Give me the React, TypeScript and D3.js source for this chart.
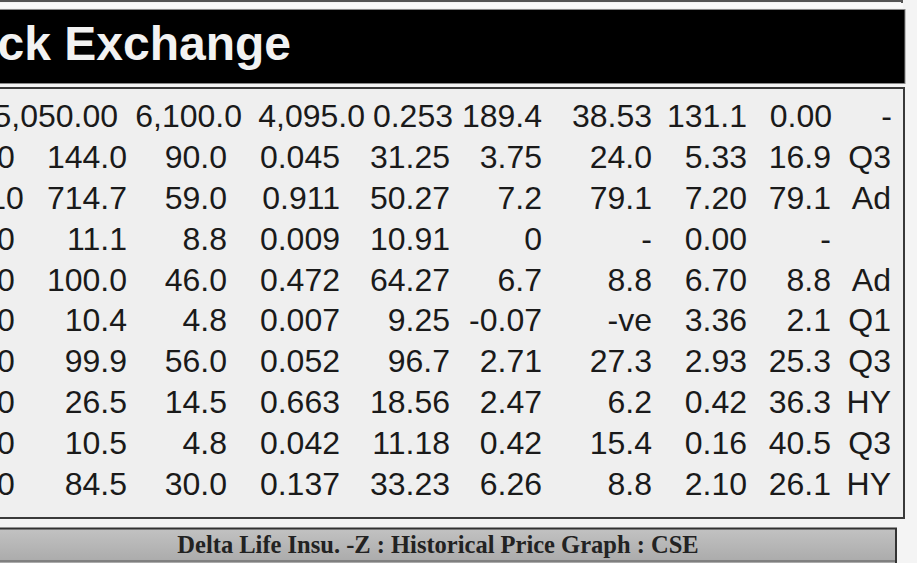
import React, { useRef, useEffect } from 'react';
import * as d3 from 'd3';

// Visible part of the title banner
const bannerTitle = 'ck Exchange';
const graphCaption = 'Delta Life Insu. -Z : Historical Price Graph : CSE';

// Column keys (the leftmost one is cut off by the crop)
const columnKeys = ['c0', 'c1', 'c2', 'c3', 'c4', 'c5', 'c6', 'c7', 'c8', 'c9'];

// First (summary) row, starts at the second column
const summaryRow = ['5,050.00', '6,100.0', '4,095.0', '0.253', '189.4', '38.53', '131.1', '0.00', '-'];

// Body rows
const row1 = ['0', '144.0', '90.0', '0.045', '31.25', '3.75', '24.0', '5.33', '16.9', 'Q3'];
const row2 = ['10', '714.7', '59.0', '0.911', '50.27', '7.2', '79.1', '7.20', '79.1', 'Ad'];
const row3 = ['0', '11.1', '8.8', '0.009', '10.91', '0', '-', '0.00', '-', ''];
const row4 = ['0', '100.0', '46.0', '0.472', '64.27', '6.7', '8.8', '6.70', '8.8', 'Ad'];
const row5 = ['0', '10.4', '4.8', '0.007', '9.25', '-0.07', '-ve', '3.36', '2.1', 'Q1'];
const row6 = ['0', '99.9', '56.0', '0.052', '96.7', '2.71', '27.3', '2.93', '25.3', 'Q3'];
const row7 = ['0', '26.5', '14.5', '0.663', '18.56', '2.47', '6.2', '0.42', '36.3', 'HY'];
const row8 = ['0', '10.5', '4.8', '0.042', '11.18', '0.42', '15.4', '0.16', '40.5', 'Q3'];
const row9 = ['0', '84.5', '30.0', '0.137', '33.23', '6.26', '8.8', '2.10', '26.1', 'HY'];
const bodyRows = [row1, row2, row3, row4, row5, row6, row7, row8, row9];

const W = 917;
const H = 563;

const App = () => {
  const svgRef = useRef<SVGSVGElement | null>(null);

  useEffect(() => {
    const svg = d3.select(svgRef.current);
    svg.selectAll('*').remove();

    const sans = "'Liberation Sans', Arial, Helvetica, sans-serif";
    const serif = "'Liberation Serif', 'Times New Roman', serif";

    const defs = svg.append('defs');
    const grad = defs.append('linearGradient')
      .attr('id', 'barGrad')
      .attr('x1', 0).attr('y1', 0).attr('x2', 0).attr('y2', 1);
    grad.append('stop').attr('offset', '0%').attr('stop-color', '#c2c2c2');
    grad.append('stop').attr('offset', '100%').attr('stop-color', '#a6a6a6');

    // page background
    svg.append('rect').attr('width', W).attr('height', H).attr('fill', '#f4f4f4');

    // bottom edge of the box above
    svg.append('rect').attr('x', 0).attr('y', 0).attr('width', 903).attr('height', 2).attr('fill', '#555');
    svg.append('rect').attr('x', 901).attr('y', 0).attr('width', 2).attr('height', 3).attr('fill', '#555');
    svg.append('rect').attr('x', 0).attr('y', 3).attr('width', 903).attr('height', 5).attr('fill', '#fafafa');

    // black banner
    svg.append('rect')
      .attr('x', -1).attr('y', 9.5).attr('width', 906).attr('height', 74)
      .attr('fill', '#000').attr('stroke', '#8a8a8a').attr('stroke-width', 1);
    svg.append('text')
      .attr('x', 291).attr('y', 60)
      .attr('text-anchor', 'end')
      .attr('font-family', sans)
      .attr('font-weight', 'bold')
      .attr('font-size', 48)
      .attr('fill', '#f2f2f2')
      .text(bannerTitle);

    // table box
    svg.append('rect')
      .attr('x', -2).attr('y', 88).attr('width', 906).attr('height', 430)
      .attr('fill', '#efefef').attr('stroke', '#3a3a3a').attr('stroke-width', 2);

    // row baselines
    const y = d3.scaleLinear().domain([0, 9]).range([127, 495]);

    // column anchor positions
    const colX = d3.scaleOrdinal<string, number>()
      .domain(columnKeys)
      .range([6, 127, 227, 340, 450, 542, 652, 747, 831, 891]);
    const summaryX = d3.scaleOrdinal<string, number>()
      .domain(columnKeys.slice(1))
      .range([118, 242, 365, 453, 542, 652, 747, 832, 892]);

    const cells = svg.append('g')
      .attr('font-family', sans)
      .attr('font-size', 32)
      .attr('fill', '#1a1a1a');

    cells.selectAll('text.sum')
      .data(summaryRow)
      .enter()
      .append('text')
      .attr('class', 'sum')
      .attr('x', (d, i) => summaryX(columnKeys[i + 1]))
      .attr('y', y(0))
      .attr('text-anchor', 'end')
      .text(d => d);

    bodyRows.forEach((row, r) => {
      cells.selectAll(`text.r${r}`)
        .data(row)
        .enter()
        .append('text')
        .attr('class', `r${r}`)
        .attr('x', (d, i) => colX(columnKeys[i]))
        .attr('y', y(r + 1))
        .attr('text-anchor', (d, i) => (i === 0 ? 'middle' : 'end'))
        .text(d => d);
    });

    // caption bar of the graph below
    svg.append('rect')
      .attr('x', -2).attr('y', 528.5).attr('width', 898).attr('height', 40)
      .attr('fill', 'url(#barGrad)').attr('stroke', '#333').attr('stroke-width', 2);
    svg.append('line')
      .attr('x1', 0).attr('x2', 895).attr('y1', 561).attr('y2', 561)
      .attr('stroke', '#555').attr('stroke-width', 1);
    svg.append('text')
      .attr('x', 438).attr('y', 553)
      .attr('text-anchor', 'middle')
      .attr('font-family', serif)
      .attr('font-weight', 'bold')
      .attr('font-size', 24.5)
      .attr('fill', '#222')
      .text(graphCaption);
  }, []);

  return (
    <svg
      ref={svgRef}
      width={W}
      height={H}
      style={{ position: 'absolute', left: 0, top: 0, display: 'block' }}
    />
  );
};

export default App;
